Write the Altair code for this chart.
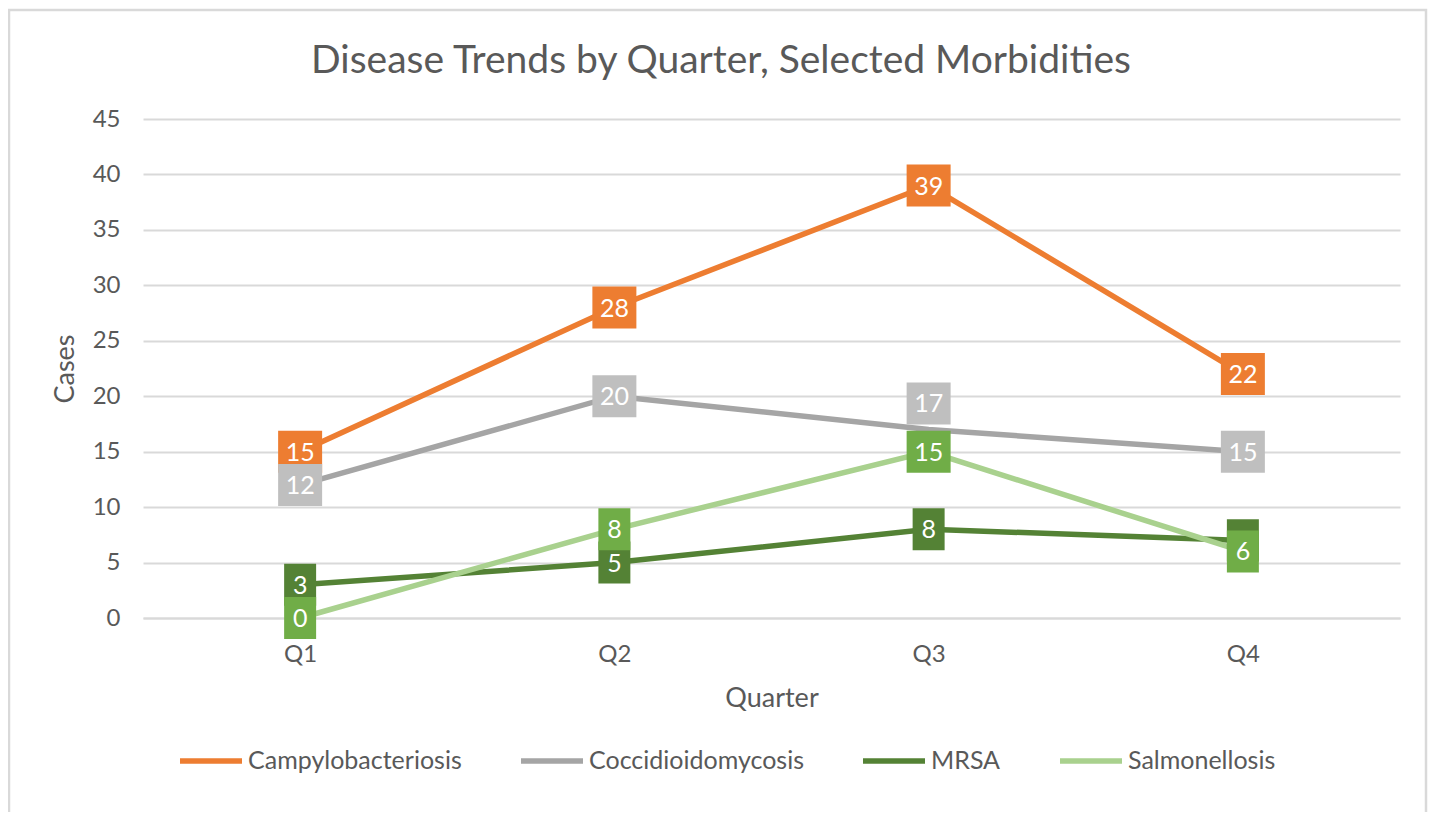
import altair as alt
import pandas as pd

quarters = ["Q1", "Q2", "Q3", "Q4"]
series_names = ["Campylobacteriosis", "Coccidioidomycosis", "MRSA", "Salmonellosis"]
campylobacteriosis = [15, 28, 39, 22]
coccidioidomycosis = [12, 20, 17, 15]
mrsa = [3, 5, 8, 7]
salmonellosis = [0, 8, 15, 6]
y_ticks = [0, 5, 10, 15, 20, 25, 30, 35, 40, 45]

line_colors = ["#ED7D31", "#A5A5A5", "#548235", "#A9D18E"]
box_colors = ["#ED7D31", "#BFBFBF", "#548235", "#70AD47"]

FONT = "Lato"
TXT = "#595959"

rows = []
for name, vals in zip(series_names, [campylobacteriosis, coccidioidomycosis, mrsa, salmonellosis]):
    for q, v in zip(quarters, vals):
        rows.append({"series": name, "quarter": q, "value": v})
df = pd.DataFrame(rows)

W, H = 1257, 499

x_enc = alt.X(
    "quarter:N", sort=quarters, title="Quarter",
    scale=alt.Scale(type="point", padding=0.5),
    axis=alt.Axis(labelAngle=0, grid=False, domain=True, domainColor="#D9D9D9", domainWidth=2,
                  ticks=False, tickSize=0, labelPadding=36, labelBaseline="middle",
                  titleY=80, titleBaseline="middle"),
)
y_axis = alt.Axis(values=y_ticks, grid=True, gridColor="#D9D9D9", gridWidth=2, domain=False,
                  ticks=False, tickSize=0, labelPadding=23,
                  titleAngle=270, titleX=-78, titleY=H / 2, titleAlign="center", titleBaseline="middle")
y_scale = alt.Scale(domain=[0, 45], nice=False, zero=True)

base = alt.Chart(df)

lines = base.mark_line(strokeWidth=5.5).encode(
    x=x_enc,
    y=alt.Y("value:Q", title="Cases", scale=y_scale, axis=y_axis),
    color=alt.Color(
        "series:N",
        scale=alt.Scale(domain=series_names, range=line_colors),
        legend=alt.Legend(
            title=None, orient="none", legendX=34, legendY=608, direction="horizontal", columns=4,
            symbolType="stroke", symbolSize=3844, symbolStrokeWidth=5.5, labelFontSize=25,
            labelFont=FONT, labelColor=TXT, labelOffset=3, labelLimit=0, columnPadding=48, padding=0,
        ),
    ),
)

layers = [lines]
for name, bcol in zip(series_names, box_colors):
    sub = base.transform_filter(alt.datum.series == name).transform_calculate(
        label_y="datum.value + ((datum.series == 'Coccidioidomycosis' && datum.quarter == 'Q3') ? 2.35 : 0)",
        box="datum.value >= 10 ? 'M-1,-0.955H1V0.955H-1Z' : 'M-0.727,-0.955H0.727V0.955H-0.727Z'",
    )
    box = sub.mark_point(filled=True, opacity=1, strokeWidth=0).encode(
        x=x_enc,
        y=alt.Y("label_y:Q", title="Cases", scale=y_scale, axis=y_axis),
        shape=alt.Shape("box:N", scale=None),
        size=alt.value(1936),
        color=alt.value(bcol),
    )
    txt = sub.mark_text(color="white", font=FONT, fontSize=25, align="center", baseline="middle", dy=1).encode(
        x=x_enc,
        y=alt.Y("label_y:Q", title="Cases", scale=y_scale, axis=y_axis),
        text=alt.Text("value:Q"),
    )
    layers += [box, txt]

one = alt.Data(values=[{"k": 1}])
frame = alt.Chart(one).mark_rect(filled=False, stroke="#D9D9D9", strokeWidth=2.5).encode(
    x=alt.value(-134), x2=alt.value(1283), y=alt.value(-109), y2=alt.value(720)
)
title = alt.Chart(one).mark_text(
    text="Disease Trends by Quarter, Selected Morbidities", font=FONT, fontSize=39,
    color=TXT, align="center", baseline="alphabetic",
).encode(x=alt.value(578), y=alt.value(-46))

chart = alt.layer(frame, title, *layers).properties(
    width=W, height=H,
    autosize=alt.AutoSizeParams(type="none"),
    padding={"left": 135, "top": 111, "right": 28, "bottom": 194},
    background="white",
).configure_view(stroke=None).configure_axis(
    labelFont=FONT, labelFontSize=24, labelColor=TXT,
    titleFont=FONT, titleFontSize=27, titleColor=TXT, titleFontWeight="normal",
)

chart.save("out.html", embed_options={"renderer": "svg", "actions": False})
